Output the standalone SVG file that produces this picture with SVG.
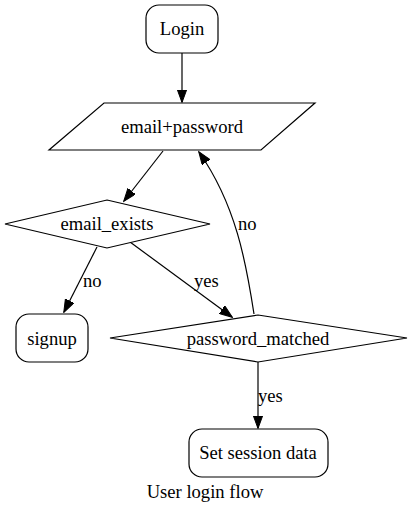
<svg xmlns="http://www.w3.org/2000/svg" width="411" height="512" viewBox="0 0 411 512">
<style>
.n{fill:#fff;stroke:#000;stroke-width:1.2}
.e{fill:none;stroke:#000;stroke-width:1.2}
text{font-family:"Liberation Serif","Times New Roman",serif;font-size:18.6px;fill:#000;text-anchor:middle}
.l{text-anchor:start}
</style>
<defs>
<marker id="a" markerUnits="userSpaceOnUse" markerWidth="14" markerHeight="10" refX="12.5" refY="4.75" orient="auto">
<path d="M0,0 L13,4.75 L0,9.5 z" fill="#000" stroke="#000" stroke-width="1"/>
</marker>
</defs>
<rect width="411" height="512" fill="#fff"/>
<g id="edges">
<path class="e" d="M182,53 L182,102" marker-end="url(#a)"/>
<path class="e" d="M163,151 L124,201" marker-end="url(#a)"/>
<path class="e" d="M97,247 L64,312" marker-end="url(#a)"/>
<path class="e" d="M130,242 L232,317" marker-end="url(#a)"/>
<path class="e" d="M254,314 C246,262 236,205 199,152" marker-end="url(#a)"/>
<path class="e" d="M258,362 L258,428" marker-end="url(#a)"/>
<text class="l" x="83" y="287">no</text>
<text class="l" x="194" y="287">yes</text>
<text class="l" x="238" y="230">no</text>
<text class="l" x="258" y="402">yes</text>
</g>
<g id="login">
<rect class="n" x="146" y="5" width="72" height="48" rx="13"/>
<text x="182" y="35">Login</text>
</g>
<g id="email_password">
<polygon class="n" points="104,103 315,103 261,150 49,150"/>
<text x="182" y="133">email+password</text>
</g>
<g id="email_exists">
<polygon class="n" points="107,200 210,224 107,248 5,224"/>
<text x="107" y="230">email_exists</text>
</g>
<g id="signup">
<rect class="n" x="16" y="314" width="72" height="48" rx="13"/>
<text x="52" y="345">signup</text>
</g>
<g id="password_matched">
<polygon class="n" points="258,315 407,338 258,362 110,338"/>
<text x="258" y="345">password_matched</text>
</g>
<g id="set_session">
<rect class="n" x="189" y="429" width="139" height="48" rx="13"/>
<text x="258" y="459">Set session data</text>
</g>
<text id="caption" x="205" y="498">User login flow</text>
</svg>
